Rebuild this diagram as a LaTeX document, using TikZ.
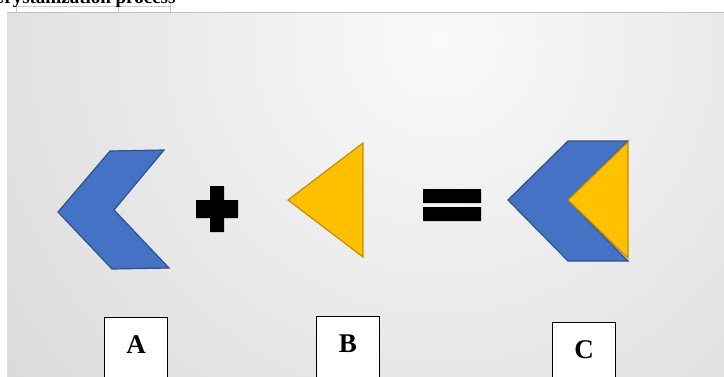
\documentclass[tikz,border=0pt]{standalone}
\usepackage{fontspec}
\setmainfont{Liberation Serif}
\usetikzlibrary{positioning}

\definecolor{chevblue}{HTML}{4472C4}
\definecolor{chevedge}{HTML}{2F528F}
\definecolor{triyellow}{HTML}{FFC000}
\definecolor{triedge}{HTML}{BF9000}
\definecolor{panelgray}{HTML}{C2C2C2}
\definecolor{panellight}{HTML}{FAFAFA}

\begin{document}
\begin{tikzpicture}[
  x=1pt,y=-1pt,
  chevron/.style={fill=chevblue,draw=chevedge,line width=1.2pt},
  wedge/.style={fill=triyellow,draw=triedge,line width=1.2pt},
  sign/.style={fill=black},
  letterbox/.style={draw,fill=white,line width=0.8pt,anchor=base,inner sep=0pt,
    minimum width=63pt,text height=36pt,text depth=30pt,
    font=\fontsize{27}{30}\selectfont\bfseries}
]
  \useasboundingbox (0,0) rectangle (724,376);
  \clip (0,0) rectangle (724,376);

  % slide background
  \begin{scope}
    \clip (7,12) rectangle (724,376);
    \fill[panelgray] (7,12) rectangle (724,376);
    \shade[inner color=panellight,outer color=panelgray] (440,40) circle (980);
  \end{scope}
  \draw[gray!50,line width=0.8pt] (7,12) -- (724,12);
  \draw[gray!40,line width=0.5pt] (16,6) -- (170,6)
    (16,2) -- (16,12) (118,2) -- (118,12) (170,2) -- (170,12);

  \node[anchor=base west,inner sep=0pt,font=\fontsize{19}{22}\selectfont\bfseries]
    (title) at (-9.6,3) {Crystallization process};

  % A + B = C
  \draw[chevron] (110,151) -- (164,150) -- (114,210) -- (169,268) -- (112,269) -- (58,212) -- cycle;
  \fill[sign] (210,186) rectangle (224,232) (196,200) rectangle (238,218);
  \draw[wedge] (363,143) -- (363,257) -- (288,200) -- cycle;
  \fill[sign] (423,189) rectangle (481,203) (423,207) rectangle (481,221);
  \draw[chevron] (568,141) -- (628,141) -- (568,200) -- (628,261) -- (568,261) -- (508,200) -- cycle;
  \draw[wedge] (628,142) -- (628,258) -- (568,200) -- cycle;

  \node[letterbox] (boxA) at (136,353) {A};
  \node[letterbox] (boxB) at (348,352) {B};
  \node[letterbox] (boxC) at (584,358) {C};
\end{tikzpicture}
\end{document}
